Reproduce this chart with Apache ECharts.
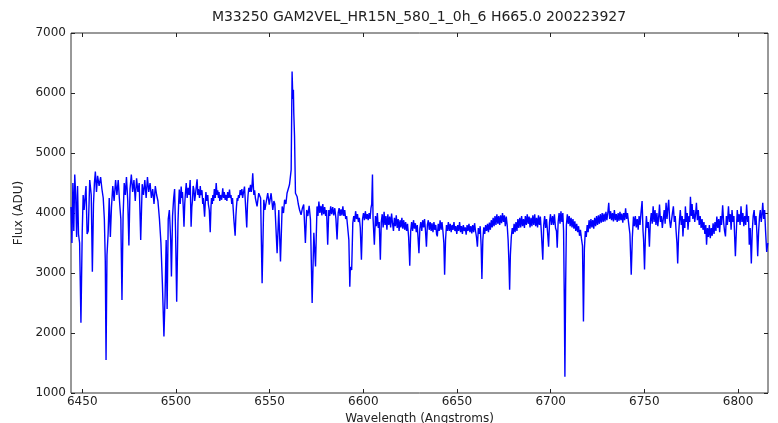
<!DOCTYPE html>
<html>
<head>
<meta charset="utf-8">
<title>M33250 spectrum</title>
<script src="https://cdn.jsdelivr.net/npm/echarts@6/dist/echarts.min.js"></script>
<style>
  html, body { margin: 0; padding: 0; background: #fff; }
  #main { width: 778px; height: 423px; }
</style>
</head>
<body>
<div id="main"></div>
<script>
'use strict';

// spectrum, [wavelength (A), flux (ADU)]
var spec6444 = [
    [6444.0, 4100], [6444.5, 3500], [6445.0, 4500], [6445.5, 3700], [6446.0, 4640], [6446.5, 4300],
    [6447.0, 3600], [6447.5, 4450], [6448.0, 3650], [6448.6, 3500], [6449.3, 2170], [6450.0, 3700],
    [6450.5, 4300], [6451.0, 4050], [6452.0, 4450], [6452.6, 3650], [6453.2, 3700], [6454.0, 4550],
    [6454.8, 4300], [6455.4, 3020], [6456.0, 4150], [6456.5, 4500], [6457.0, 4690], [6457.6, 4350],
    [6458.2, 4620], [6459.0, 4450], [6459.8, 4600], [6460.5, 4400], [6461.2, 4250], [6461.8, 3900],
    [6462.3, 3200], [6462.7, 1550], [6463.2, 3300], [6463.8, 3650], [6464.4, 4250], [6465.0, 3600],
    [6465.6, 4100], [6466.3, 4450], [6467.0, 4200], [6467.8, 4550], [6468.5, 4300], [6469.2, 4550],
    [6470.0, 4150], [6470.6, 3900], [6471.2, 2550], [6471.8, 3950], [6472.4, 4500], [6473.0, 4300],
    [6473.6, 4600], [6474.3, 4200], [6474.9, 3460], [6475.5, 4400], [6476.2, 4640], [6476.9, 4350],
    [6477.6, 4550], [6478.3, 4200], [6479.0, 4580], [6479.7, 4350], [6480.4, 4500], [6481.2, 3550],
    [6482.0, 4480], [6482.7, 4300], [6483.4, 4550], [6484.1, 4250], [6484.8, 4600], [6485.5, 4350],
    [6486.2, 4500], [6486.9, 4250], [6487.6, 4400], [6488.3, 4150], [6489.0, 4450], [6489.7, 4300],
    [6490.4, 4200], [6491.2, 3900], [6492.0, 3500], [6492.8, 2800], [6493.6, 1940], [6494.2, 2600],
    [6494.8, 3550], [6495.3, 2400], [6495.9, 3900], [6496.5, 4050], [6497.2, 3550], [6497.6, 2940],
    [6498.2, 3950], [6498.8, 4250], [6499.3, 4400], [6499.8, 3700], [6500.4, 2520]
];

var spec6500 = [
    [6501.1, 3860], [6501.5, 4200], [6501.8, 4390], [6502.3, 4150], [6502.8, 4440], [6503.2, 4250],
    [6503.5, 4350], [6503.9, 4100], [6504.3, 3770], [6504.7, 4150], [6505.0, 4300], [6505.5, 4500],
    [6506.0, 4250], [6506.5, 4420], [6507.0, 4300], [6507.6, 4550], [6508.1, 3770], [6508.5, 4100],
    [6508.8, 4200], [6509.2, 4450], [6509.6, 4390], [6510.0, 4200], [6510.4, 4300], [6510.9, 4450],
    [6511.3, 4560], [6511.7, 4300], [6512.0, 4400], [6512.6, 4250], [6513.0, 4450], [6513.3, 4300],
    [6513.9, 4380], [6514.3, 4150], [6514.6, 4250], [6515.3, 3940], [6515.7, 4200], [6516.0, 4350],
    [6516.5, 4200], [6517.0, 4300], [6517.3, 4150], [6517.8, 4050], [6518.3, 3680], [6518.7, 4100],
    [6519.0, 4250], [6519.4, 4150], [6519.7, 4300], [6520.1, 4200], [6520.5, 4400], [6521.0, 4250],
    [6521.5, 4500], [6521.9, 4300], [6522.3, 4380], [6522.7, 4250], [6523.0, 4350], [6523.4, 4200],
    [6523.8, 4300], [6524.4, 4220], [6525.0, 4410], [6525.4, 4250], [6525.8, 4350], [6526.3, 4220],
    [6526.8, 4300], [6527.2, 4200], [6527.6, 4350], [6528.1, 4250], [6528.6, 4390], [6529.0, 4250],
    [6529.4, 4300], [6529.8, 4150], [6530.2, 4250], [6530.6, 4050], [6530.9, 3900], [6531.6, 3620],
    [6532.0, 3950], [6532.3, 4100], [6532.7, 4250], [6533.0, 4200], [6533.4, 4300], [6533.8, 4250],
    [6534.3, 4380], [6534.8, 4300], [6535.2, 4400], [6535.6, 4250], [6536.1, 4350], [6536.6, 4440],
    [6537.2, 4100], [6537.8, 3760], [6538.2, 4150], [6538.5, 4300], [6538.9, 4420], [6539.3, 4350],
    [6539.8, 4470], [6540.2, 4350], [6540.6, 4450], [6541.0, 4660], [6541.4, 4400], [6541.6, 4300],
    [6542.0, 4380], [6542.4, 4250]
];

var spec6543 = [
    [6543.3, 4110], [6544.2, 4330], [6545.2, 4250], [6546.0, 2830], [6546.9, 4220], [6547.5, 4050],
    [6548.0, 4150], [6549.0, 4330], [6549.8, 4140], [6550.8, 4330], [6551.7, 4050], [6552.3, 4200],
    [6552.8, 4150], [6554.0, 3330], [6554.9, 4050], [6555.8, 3190], [6556.7, 4110], [6557.4, 4000],
    [6558.0, 4220], [6558.7, 4150], [6559.3, 4330], [6560.0, 4300], [6560.6, 4470], [6561.5, 4720],
    [6562.0, 6360], [6562.4, 5900], [6562.7, 6055], [6562.9, 5670], [6563.3, 5280], [6563.8, 4330],
    [6564.7, 4270], [6565.3, 4150], [6566.0, 4050], [6566.8, 3970], [6567.5, 4080], [6568.2, 4140],
    [6569.1, 3500], [6569.8, 4050], [6570.4, 3950], [6571.1, 4120], [6571.8, 3890], [6572.7, 2500],
    [6573.6, 3670], [6574.5, 3110], [6575.3, 4110], [6575.8, 3950], [6576.3, 4190], [6576.8, 4000],
    [6577.4, 4120], [6577.9, 3960], [6578.4, 4150], [6578.9, 3980], [6579.4, 4100], [6579.9, 3950],
    [6580.4, 4050], [6581.0, 3470], [6581.6, 4050], [6582.1, 3950], [6582.6, 4110], [6583.1, 3980],
    [6583.7, 4100], [6584.2, 3960], [6584.8, 4080], [6585.4, 3900], [6586.0, 3560], [6586.6, 4000],
    [6587.1, 4080], [6587.6, 3950], [6588.1, 4060], [6588.6, 3960], [6589.1, 4110], [6589.6, 3950],
    [6590.1, 4050], [6590.6, 3900], [6591.1, 3950], [6591.7, 3750], [6592.3, 3550], [6592.8, 2770],
    [6593.1, 3100], [6593.8, 3050], [6594.4, 3830], [6594.9, 3950], [6595.4, 3850], [6595.9, 4030],
    [6596.4, 3900], [6596.9, 3980], [6597.4, 3850], [6597.9, 3920], [6598.4, 3750], [6599.0, 3220],
    [6599.6, 3900], [6600.1, 4000], [6600.6, 3880], [6601.1, 4030], [6601.6, 3900], [6602.1, 3980],
    [6602.6, 3880], [6603.1, 4000], [6603.6, 3900], [6604.1, 4080], [6604.5, 4150], [6604.9, 4640],
    [6605.2, 3920], [6605.9, 3470], [6606.5, 3950], [6607.0, 3780], [6607.5, 4000], [6608.0, 3750],
    [6608.5, 3850], [6609.1, 3220], [6609.6, 3850], [6610.1, 3980], [6610.6, 3760], [6611.1, 4020],
    [6611.6, 3800], [6612.1, 3950], [6612.6, 3720], [6613.1, 3980], [6613.6, 3800], [6614.1, 3940],
    [6614.6, 3760], [6615.1, 3990], [6615.6, 3830], [6616.1, 3700], [6616.6, 3920], [6617.1, 3780],
    [6617.6, 3960], [6618.1, 3750], [6618.6, 3900], [6619.1, 3700], [6619.6, 3880], [6620.1, 3760],
    [6620.6, 3920], [6621.1, 3740], [6621.6, 3880], [6622.1, 3720], [6622.6, 3850], [6623.1, 3700],
    [6623.6, 3820], [6624.2, 3600], [6624.8, 3120], [6625.3, 3700], [6625.8, 3850], [6626.3, 3700],
    [6626.8, 3880], [6627.3, 3740], [6627.8, 3830], [6628.3, 3680], [6628.8, 3800], [6629.2, 3600],
    [6629.7, 3330], [6630.2, 3750], [6630.7, 3850], [6631.2, 3700], [6631.7, 3880], [6632.2, 3760],
    [6632.7, 3900], [6633.2, 3700], [6633.7, 3440], [6634.2, 3800], [6634.7, 3880], [6635.2, 3720],
    [6635.7, 3850], [6636.2, 3700], [6636.7, 3830], [6637.2, 3680], [6637.7, 3850], [6638.2, 3720],
    [6638.7, 3800], [6639.1, 3650], [6639.5, 3610], [6640.0, 3820], [6640.5, 3700], [6641.0, 3880],
    [6641.5, 3720], [6642.0, 3850], [6642.5, 3700], [6643.0, 3500], [6643.4, 2970], [6643.9, 3550],
    [6644.4, 3800], [6644.9, 3700]
];

var spec6645 = [
    [6645.4, 3850], [6645.9, 3700], [6646.4, 3820], [6646.9, 3680], [6647.4, 3800], [6647.9, 3720],
    [6648.4, 3850], [6648.9, 3700], [6649.4, 3780], [6649.9, 3650], [6650.4, 3800], [6650.9, 3700],
    [6651.4, 3850], [6651.9, 3680], [6652.4, 3780], [6652.9, 3650], [6653.4, 3800], [6653.9, 3700],
    [6654.4, 3760], [6654.9, 3640], [6655.4, 3800], [6655.9, 3700], [6656.4, 3820], [6656.9, 3680],
    [6657.4, 3780], [6657.9, 3660], [6658.4, 3800], [6658.9, 3680], [6659.4, 3830], [6659.9, 3700],
    [6660.4, 3600], [6660.9, 3440], [6661.4, 3750], [6661.9, 3650], [6662.4, 3780], [6662.9, 3450],
    [6663.3, 2900], [6663.8, 3550], [6664.3, 3760], [6664.8, 3650], [6665.3, 3800], [6665.8, 3700],
    [6666.3, 3820], [6666.8, 3680], [6667.3, 3840], [6667.8, 3720], [6668.3, 3880], [6668.8, 3760],
    [6669.3, 3920], [6669.8, 3780], [6670.3, 3950], [6670.8, 3800], [6671.3, 3980], [6671.8, 3820],
    [6672.3, 3950], [6672.8, 3800], [6673.3, 3960], [6673.8, 3830], [6674.3, 4000], [6674.8, 3850],
    [6675.3, 3960], [6675.8, 3780], [6676.3, 3940], [6676.8, 3800], [6677.3, 3550], [6677.7, 3200],
    [6678.1, 2720], [6678.5, 3300], [6679.0, 3600], [6679.5, 3750], [6680.0, 3650], [6680.5, 3820],
    [6681.0, 3680], [6681.5, 3850], [6682.0, 3700], [6682.5, 3900], [6683.0, 3750], [6683.5, 3920],
    [6684.0, 3760], [6684.5, 3950], [6685.0, 3780], [6685.5, 3900], [6686.0, 3750], [6686.5, 3950],
    [6687.0, 3800], [6687.5, 3980], [6688.0, 3820], [6688.5, 3940], [6689.0, 3760], [6689.5, 3920],
    [6690.0, 3780], [6690.5, 3960], [6691.0, 3800], [6691.5, 3980], [6692.0, 3780], [6692.5, 3920],
    [6693.0, 3760], [6693.5, 3960], [6694.0, 3800], [6694.5, 3940], [6695.0, 3700], [6695.8, 3220],
    [6696.3, 3800], [6696.8, 3950], [6697.3, 3750], [6697.8, 3900], [6698.3, 3700], [6698.9, 3440],
    [6699.4, 3850], [6699.9, 3980], [6700.4, 3800]
];

var spec6701 = [
    [6701.0, 3950], [6701.5, 3800], [6702.0, 3980], [6702.6, 3750], [6703.1, 3700], [6703.5, 3420],
    [6704.0, 3850], [6704.5, 4000], [6705.0, 3820], [6705.5, 4030], [6706.0, 3850], [6706.5, 4000],
    [6706.9, 3700], [6707.3, 2500], [6707.6, 1272], [6708.0, 2800], [6708.4, 3800], [6708.9, 3980],
    [6709.4, 3820], [6709.9, 3950], [6710.4, 3780], [6710.9, 3920], [6711.4, 3760], [6711.9, 3900],
    [6712.4, 3740], [6712.9, 3860], [6713.4, 3700], [6713.9, 3820], [6714.4, 3680], [6714.9, 3780],
    [6715.4, 3620], [6715.9, 3720], [6716.4, 3580], [6717.0, 3450], [6717.5, 2190], [6718.0, 3400],
    [6718.5, 3700], [6719.0, 3600], [6719.5, 3800], [6720.0, 3680], [6720.5, 3880], [6721.0, 3740],
    [6721.5, 3900], [6722.0, 3760], [6722.5, 3880], [6723.0, 3740], [6723.5, 3920], [6724.0, 3780],
    [6724.5, 3950], [6725.0, 3800], [6725.5, 3960], [6726.0, 3820], [6726.5, 3980], [6727.0, 3840],
    [6727.5, 4000], [6728.0, 3850], [6728.5, 3990], [6729.0, 3860], [6729.5, 4020], [6730.0, 3880],
    [6730.5, 4000], [6731.0, 4170], [6731.5, 3900], [6732.0, 4030], [6732.5, 3880], [6733.0, 4000],
    [6733.5, 3860], [6734.0, 4050], [6734.5, 3880], [6735.0, 3980], [6735.5, 3850], [6736.0, 4000],
    [6736.5, 3870], [6737.0, 4020], [6737.5, 3880], [6738.0, 3990], [6738.5, 3840], [6739.0, 4000],
    [6739.5, 3880], [6740.0, 4080], [6740.5, 3900], [6741.0, 4000], [6741.5, 3860], [6742.3, 3650],
    [6743.0, 2970], [6743.6, 3600]
];

var spec6744 = [
    [6744.2, 3940], [6744.7, 3780], [6745.2, 3950], [6745.7, 3760], [6746.2, 3900], [6746.7, 3720],
    [6747.2, 3950], [6747.7, 3800], [6748.2, 4000], [6748.8, 4200], [6749.3, 3700], [6749.6, 3550],
    [6750.1, 3060], [6750.6, 3650], [6751.1, 3950], [6751.6, 3750], [6752.1, 3850], [6752.7, 3440],
    [6753.2, 3850], [6753.7, 4000], [6754.2, 3820], [6754.7, 4110], [6755.2, 3850], [6755.7, 4050],
    [6756.2, 3800], [6756.7, 4000], [6757.2, 3780], [6757.7, 3950], [6758.1, 4140], [6758.6, 3850],
    [6759.1, 3950], [6759.6, 3750], [6760.1, 3900], [6760.6, 4050], [6761.1, 3820], [6761.6, 4170],
    [6762.1, 3900], [6762.6, 4100], [6763.0, 4220], [6763.5, 3880], [6764.0, 3750], [6764.5, 3720],
    [6765.0, 4000], [6765.5, 4110], [6766.0, 3850], [6766.5, 3950], [6766.9, 3720], [6767.4, 3500],
    [6767.8, 3160], [6768.3, 3650], [6768.8, 3900], [6769.2, 4050], [6769.7, 3800], [6770.2, 3950],
    [6770.6, 3610], [6771.1, 3900], [6771.6, 3750], [6771.9, 4110], [6772.4, 3850], [6772.9, 4000],
    [6773.3, 3720], [6773.8, 3950], [6774.2, 3850], [6774.6, 4270], [6775.1, 3950], [6775.5, 4150],
    [6775.9, 3900], [6776.4, 4050], [6776.9, 3850], [6777.4, 4000], [6777.8, 4170], [6778.3, 3880],
    [6778.8, 4050], [6779.3, 3800], [6779.8, 3950], [6780.3, 3750], [6780.8, 3900], [6781.3, 3720],
    [6781.8, 3850], [6782.3, 3650], [6782.8, 3800], [6783.2, 3470], [6783.7, 3750], [6784.2, 3600],
    [6784.7, 3800], [6785.2, 3580], [6785.7, 3750], [6786.2, 3620], [6786.7, 3830], [6787.2, 3650],
    [6787.7, 3850], [6788.2, 3700], [6788.7, 3940], [6789.2, 3750], [6789.7, 3900], [6790.2, 3680],
    [6790.7, 3950], [6791.2, 3800], [6791.8, 4130], [6792.3, 3850], [6792.8, 3700], [6793.3, 3610],
    [6793.8, 3950], [6794.3, 3800], [6794.9, 4110], [6795.4, 3850], [6795.9, 3980], [6796.3, 3720],
    [6796.8, 4050], [6797.3, 3850], [6797.8, 3950], [6798.2, 3600], [6798.6, 3280], [6799.1, 3700],
    [6799.6, 4050], [6800.1, 3850], [6800.6, 3980], [6801.1, 3800], [6801.6, 4110], [6802.1, 3850],
    [6802.6, 4000], [6803.1, 3780], [6803.6, 3950], [6804.1, 3800], [6804.6, 4140], [6805.1, 3850],
    [6805.6, 3950], [6806.0, 3470], [6806.5, 3750], [6807.1, 3160], [6807.6, 3700], [6808.1, 3950],
    [6808.6, 4050], [6809.1, 3800], [6809.6, 3950], [6810.1, 3650], [6810.5, 3280], [6811.0, 3700],
    [6811.5, 3950], [6811.9, 4050], [6812.4, 3850], [6812.8, 3980], [6813.2, 4170], [6813.7, 3900],
    [6814.2, 4050], [6814.7, 3700], [6815.3, 3350], [6815.9, 3500]
];

var xTicks = [6450, 6500, 6550, 6600, 6650, 6700, 6750, 6800];
var yTicks = [1000, 2000, 3000, 4000, 5000, 6000, 7000];

var titleText = 'M33250 GAM2VEL_HR15N_580_1_0h_6 H665.0 200223927';
var FONT = 'DejaVu Sans';
var INK = '#222';

var spectrum = [].concat(spec6444, spec6500, spec6543, spec6645, spec6701, spec6744);

// plain numbers, no thousands separator
function plain(v) {
    return String(v);
}

function xAxisDef(pos) {
    var bottom = pos === 'bottom';
    return {
        type: 'value',
        position: pos,
        min: 6444,
        max: 6816,
        name: bottom ? 'Wavelength (Angstroms)' : '',
        nameLocation: 'middle',
        nameGap: 16,
        nameTextStyle: { fontFamily: FONT, fontSize: 12, color: INK },
        axisLine: { show: false },
        axisTick: { inside: true, length: 4, customValues: xTicks, lineStyle: { color: INK } },
        axisLabel: {
            show: bottom,
            customValues: xTicks,
            formatter: plain,
            margin: 3,
            fontFamily: FONT,
            fontSize: 12,
            color: INK
        },
        splitLine: { show: false }
    };
}

function yAxisDef(pos) {
    var left = pos === 'left';
    return {
        type: 'value',
        position: pos,
        min: 1000,
        max: 7000,
        name: left ? 'Flux (ADU)' : '',
        nameLocation: 'middle',
        nameGap: 29,
        nameTextStyle: { fontFamily: FONT, fontSize: 12, color: INK },
        axisLine: { show: false },
        axisTick: { inside: true, length: 4, customValues: yTicks, lineStyle: { color: INK } },
        axisLabel: {
            show: left,
            customValues: yTicks,
            formatter: plain,
            margin: 5,
            fontFamily: FONT,
            fontSize: 12,
            color: INK
        },
        splitLine: { show: false }
    };
}

var option = {
    animation: false,
    backgroundColor: '#ffffff',
    title: {
        text: titleText,
        left: 414,
        top: 5,
        textAlign: 'center',
        textStyle: { fontFamily: FONT, fontSize: 14, fontWeight: 'normal', color: INK }
    },
    grid: {
        left: 71,
        right: 10,
        top: 33,
        bottom: 30,
        show: true,
        borderColor: '#333',
        borderWidth: 1,
        outerBoundsMode: 'none',
        containLabel: false
    },
    xAxis: [xAxisDef('bottom'), xAxisDef('top')],
    yAxis: [yAxisDef('left'), yAxisDef('right')],
    series: [{
        type: 'line',
        xAxisIndex: 0,
        yAxisIndex: 0,
        data: spectrum,
        showSymbol: false,
        symbol: 'none',
        lineStyle: { color: '#0000ff', width: 1.4 },
        z: 1
    }]
};

var myChart = echarts.init(document.getElementById('main'));
myChart.setOption(option);
</script>
</body>
</html>
